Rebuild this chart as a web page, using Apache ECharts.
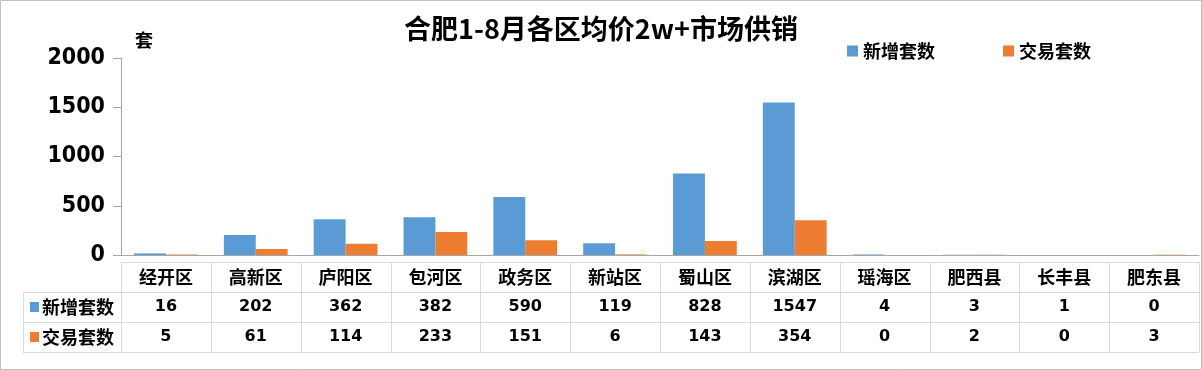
<!DOCTYPE html>
<html>
<head>
<meta charset="utf-8">
<script src="https://cdn.jsdelivr.net/npm/echarts@6/dist/echarts.min.js"></script>
<style>
html,body{margin:0;padding:0;background:#fff;}
#main{width:1202px;height:370px;}
</style>
</head>
<body>
<div id="main"></div>
<script>
var categories = ['经开区','高新区','庐阳区','包河区','政务区','新站区','蜀山区','滨湖区','瑶海区','肥西县','长丰县','肥东县'];
var newSupply = [16,202,362,382,590,119,828,1547,4,3,1,0];
var deals = [5,61,114,233,151,6,143,354,0,2,0,3];
var seriesNames = ['新增套数','交易套数'];
var yTicks = [0,500,1000,1500,2000];

var colors = ['#5b9bd5','#ed7d31'];
var CJK = '"Noto Sans CJK SC","Noto Sans",sans-serif';
var NUM = '"DejaVu Sans",Verdana,sans-serif';
var YNUM = '"DejaVu Sans Condensed","DejaVu Sans",sans-serif';

var W = 1202, H = 370;
var gridLeft = 121, gridRight = 3, gridTop = 58, gridBottom = 115;
var rowTop = 262, rowH = 30;
var tableLeft = 23;
var plotW = W - gridLeft - gridRight;
var colW = plotW / categories.length;
var lineColor = '#d9d9d9';

var graphics = [];
graphics.push({type:'rect', shape:{x:0.5,y:0.5,width:W-1,height:H-1}, style:{fill:'none',stroke:'#bfbfbf',lineWidth:1}, silent:true});
var right = gridLeft + plotW;
graphics.push({type:'line', shape:{x1:gridLeft,y1:rowTop+0.5,x2:right,y2:rowTop+0.5}, style:{stroke:lineColor,lineWidth:1}});
for (var r = 1; r <= 3; r++) {
  graphics.push({type:'line', shape:{x1:tableLeft,y1:rowTop+r*rowH+0.5,x2:right,y2:rowTop+r*rowH+0.5}, style:{stroke:lineColor,lineWidth:1}});
}
for (var c = 0; c <= categories.length; c++) {
  var x = Math.round(gridLeft + c*colW) + 0.5;
  graphics.push({type:'line', shape:{x1:x,y1:rowTop,x2:x,y2:rowTop+3*rowH}, style:{stroke:lineColor,lineWidth:1}});
}
graphics.push({type:'line', shape:{x1:tableLeft+0.5,y1:rowTop+rowH,x2:tableLeft+0.5,y2:rowTop+3*rowH}, style:{stroke:lineColor,lineWidth:1}});
for (var s = 0; s < seriesNames.length; s++) {
  var cy = rowTop + (s+1)*rowH + rowH/2;
  graphics.push({type:'rect', shape:{x:30,y:cy-5,width:9,height:10}, style:{fill:colors[s]}});
  graphics.push({type:'text', x:42, y:cy, style:{text:seriesNames[s], font:'bold 18px '+CJK, fill:'#000', verticalAlign:'middle', align:'left'}});
}
graphics.push({type:'text', x:135, y:40, style:{text:'套', font:'bold 18px '+CJK, fill:'#000', verticalAlign:'middle'}});

function catAxis(idx, formatter, font, offset) {
  return {
    type:'category', data:categories, position:'bottom', offset:offset, gridIndex:0,
    axisLine:{show: idx===0, lineStyle:{color:'#a6a6a6', width:1}},
    axisTick:{show:false},
    splitLine:{show:false},
    axisLabel:{show:true, interval:0, margin:22, verticalAlign:'middle',
      color:'#000', fontWeight:'bold', fontSize:font.size, fontFamily:font.family,
      formatter: formatter}
  };
}

var chart = echarts.init(document.getElementById('main'), null, {renderer:'canvas'});
chart.setOption({
  animation:false,
  backgroundColor:'#fff',
  title:{text:'合肥1-8月各区均价2w+市场供销', left:'center', top:10,
    textStyle:{fontFamily:CJK, fontWeight:'bold', fontSize:27, color:'#000'}},
  legend:{data:seriesNames, left:842, top:37, itemWidth:11, itemHeight:11, itemGap:68, icon:'rect',
    textStyle:{fontFamily:CJK, fontWeight:'bold', fontSize:18, color:'#000', padding:[0,0,0,0]}},
  grid:{left:gridLeft, right:gridRight, top:gridTop, bottom:gridBottom, containLabel:false},
  xAxis:[
    catAxis(0, function(v){return v;}, {size:18, family:CJK}, 0),
    catAxis(1, function(v,i){return String(newSupply[i]);}, {size:16, family:NUM}, 30),
    catAxis(2, function(v,i){return String(deals[i]);}, {size:16, family:NUM}, 60)
  ],
  yAxis:{type:'value', min:yTicks[0], max:yTicks[yTicks.length-1], interval:500,
    axisLine:{show:true, lineStyle:{color:'#a6a6a6'}},
    axisTick:{show:true, length:8, lineStyle:{color:'#a6a6a6'}},
    splitLine:{show:false},
    axisLabel:{margin:16, color:'#000', fontWeight:'bold', fontSize:23, fontFamily:YNUM,
      formatter:function(v){return String(v);}}},
  series:[
    {name:seriesNames[0], type:'bar', data:newSupply, xAxisIndex:0, barGap:'0%', barCategoryGap:'29%', itemStyle:{color:colors[0]}},
    {name:seriesNames[1], type:'bar', data:deals, xAxisIndex:0, barGap:'0%', barCategoryGap:'29%', itemStyle:{color:colors[1]}}
  ],
  graphic:graphics
});
</script>
</body>
</html>
